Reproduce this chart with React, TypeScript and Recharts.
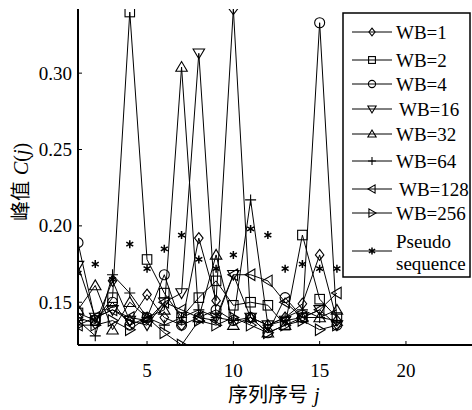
import React from 'react';
import { LineChart, Line, XAxis, YAxis } from 'recharts';

const xValues = [1, 2, 3, 4, 5, 6, 7, 8, 9, 10, 11, 12, 13, 14, 15, 16];
const wb1 = [0.140, 0.136, 0.164, 0.138, 0.155, 0.140, 0.135, 0.192, 0.151, 0.342, 0.140, 0.135, 0.140, 0.149, 0.181, 0.138];
const wb2 = [0.143, 0.138, 0.153, 0.340, 0.178, 0.156, 0.140, 0.153, 0.164, 0.148, 0.150, 0.148, 0.135, 0.194, 0.152, 0.140];
const wb4 = [0.189, 0.138, 0.150, 0.135, 0.140, 0.168, 0.135, 0.140, 0.145, 0.138, 0.140, 0.130, 0.153, 0.140, 0.333, 0.135];
const wb16 = [0.174, 0.140, 0.145, 0.138, 0.135, 0.150, 0.156, 0.313, 0.140, 0.168, 0.140, 0.135, 0.138, 0.140, 0.145, 0.135];
const wb32 = [0.145, 0.161, 0.132, 0.150, 0.140, 0.145, 0.304, 0.140, 0.181, 0.135, 0.140, 0.130, 0.135, 0.140, 0.140, 0.145];
const wb64 = [0.138, 0.128, 0.168, 0.156, 0.140, 0.135, 0.140, 0.145, 0.140, 0.138, 0.217, 0.135, 0.140, 0.145, 0.140, 0.138];
const wb128 = [0.135, 0.140, 0.145, 0.140, 0.138, 0.150, 0.145, 0.140, 0.138, 0.168, 0.168, 0.164, 0.150, 0.140, 0.145, 0.156];
const wb256 = [0.135, 0.135, 0.138, 0.132, 0.140, 0.130, 0.122, 0.138, 0.135, 0.140, 0.135, 0.130, 0.135, 0.138, 0.132, 0.135];
const pseudo = [0.169, 0.175, 0.165, 0.188, 0.172, 0.185, 0.194, 0.178, 0.172, 0.181, 0.198, 0.194, 0.172, 0.175, 0.172, 0.172];

const xTicks = [5, 10, 15, 20];
const yTicks = [0.15, 0.2, 0.25, 0.3];

const seriesKeys = ['wb1', 'wb2', 'wb4', 'wb16', 'wb32', 'wb64', 'wb128', 'wb256', 'pseudo'];
const seriesNames = ['WB=1', 'WB=2', 'WB=4', 'WB=16', 'WB=32', 'WB=64', 'WB=128', 'WB=256', 'Pseudo sequence'];
const seriesMarkers = ['diamond', 'square', 'circle', 'down', 'up', 'plus', 'left', 'right', 'star'];
const seriesValues = [wb1, wb2, wb4, wb16, wb32, wb64, wb128, wb256, pseudo];

const data = xValues.map((x, i) => {
  const row: Record<string, number> = { x };
  seriesKeys.forEach((k, j) => {
    row[k] = seriesValues[j][i];
  });
  return row;
});

const SERIF = '"Liberation Serif", "Times New Roman", serif';
const CJK = '"Noto Sans CJK SC", sans-serif';

function Marker({ kind, cx, cy, s }: { kind: string; cx: number; cy: number; s: number }) {
  const st = { fill: 'none', stroke: '#000', strokeWidth: 1.1 };
  switch (kind) {
    case 'diamond':
      return <polygon points={`${cx},${cy - s * 1.1} ${cx + s * 0.85},${cy} ${cx},${cy + s * 1.1} ${cx - s * 0.85},${cy}`} {...st} />;
    case 'square':
      return <rect x={cx - s * 0.95} y={cy - s * 0.95} width={s * 1.9} height={s * 1.9} {...st} />;
    case 'circle':
      return <circle cx={cx} cy={cy} r={s} {...st} />;
    case 'down':
      return <polygon points={`${cx - s * 1.15},${cy - s * 0.85} ${cx + s * 1.15},${cy - s * 0.85} ${cx},${cy + s * 1.1}`} {...st} />;
    case 'up':
      return <polygon points={`${cx - s * 1.15},${cy + s * 0.85} ${cx + s * 1.15},${cy + s * 0.85} ${cx},${cy - s * 1.1}`} {...st} />;
    case 'left':
      return <polygon points={`${cx + s * 0.85},${cy - s * 1.15} ${cx + s * 0.85},${cy + s * 1.15} ${cx - s * 1.1},${cy}`} {...st} />;
    case 'right':
      return <polygon points={`${cx - s * 0.85},${cy - s * 1.15} ${cx - s * 0.85},${cy + s * 1.15} ${cx + s * 1.1},${cy}`} {...st} />;
    case 'plus':
      return <path d={`M${cx - s * 1.1},${cy}H${cx + s * 1.1}M${cx},${cy - s * 1.1}V${cy + s * 1.1}`} {...st} />;
    case 'star': {
      const r = s * 0.8;
      const a = r * 0.87;
      const b = r * 0.5;
      return (
        <path
          d={`M${cx},${cy - r}V${cy + r}M${cx - a},${cy - b}L${cx + a},${cy + b}M${cx - a},${cy + b}L${cx + a},${cy - b}`}
          fill="none"
          stroke="#000"
          strokeWidth={1.5}
        />
      );
    }
    default:
      return null;
  }
}

const makeDot = (kind: string) => (props: any) => {
  const { cx, cy, index } = props;
  if (cx == null || cy == null) return <g key={`d-${kind}-${index}`} />;
  return (
    <g key={`d-${kind}-${index}`}>
      <Marker kind={kind} cx={cx} cy={cy} s={5} />
    </g>
  );
};

const BottomTick = (props: any) => {
  const { x, y, payload } = props;
  return (
    <g>
      <line x1={x} x2={x} y1={y} y2={y - 4} stroke="#000" strokeWidth={1} />
      <text x={x} y={y + 32} textAnchor="middle" style={{ fontFamily: SERIF }} fontSize={19} fill="#000">
        {payload.value}
      </text>
    </g>
  );
};

const TopTick = (props: any) => {
  const { x, y } = props;
  return <line x1={x} x2={x} y1={y} y2={y + 4} stroke="#000" strokeWidth={1} />;
};

const LeftTick = (props: any) => {
  const { x, y, payload } = props;
  return (
    <g>
      <line x1={x} x2={x + 4} y1={y} y2={y} stroke="#000" strokeWidth={1} />
      <text x={x - 6} y={y + 6.5} textAnchor="end" style={{ fontFamily: SERIF }} fontSize={19} fill="#000">
        {Number(payload.value).toFixed(2)}
      </text>
    </g>
  );
};

const RightTick = (props: any) => {
  const { x, y } = props;
  return <line x1={x} x2={x - 4} y1={y} y2={y} stroke="#000" strokeWidth={1} />;
};

const legendRows = [32, 60, 84, 109, 134, 161, 189, 213];
const legendTextX = [396, 396, 396, 399, 396, 396, 399, 396];

export default function App() {
  return (
    <div style={{ position: 'absolute', left: 0, top: 0, width: 472, height: 410, overflow: 'hidden', background: '#fff' }}>
      <LineChart
        width={480}
        height={410}
        data={data}
        margin={{ top: 9, right: 5, left: 0, bottom: 25 }}
      >
        <XAxis
          xAxisId={0}
          dataKey="x"
          type="number"
          domain={[1, 24]}
          ticks={xTicks}
          interval={0}
          allowDataOverflow
          height={40}
          tickSize={0}
          tickMargin={0}
          axisLine={{ stroke: '#000', strokeWidth: 2 }}
          tickLine={false}
          tick={<BottomTick />}
        />
        <XAxis
          xAxisId="top"
          orientation="top"
          dataKey="x"
          type="number"
          domain={[1, 24]}
          ticks={xTicks}
          interval={0}
          allowDataOverflow
          height={0}
          tickSize={0}
          tickMargin={0}
          axisLine={{ stroke: '#000', strokeWidth: 2 }}
          tickLine={false}
          tick={<TopTick />}
        />
        <YAxis
          yAxisId={0}
          type="number"
          domain={[0.122, 0.342]}
          ticks={yTicks}
          interval={0}
          allowDataOverflow
          width={78}
          tickSize={0}
          tickMargin={0}
          axisLine={{ stroke: '#000', strokeWidth: 2 }}
          tickLine={false}
          tick={<LeftTick />}
        />
        <YAxis
          yAxisId="right"
          orientation="right"
          type="number"
          domain={[0.122, 0.342]}
          ticks={yTicks}
          interval={0}
          allowDataOverflow
          width={0}
          tickSize={0}
          tickMargin={0}
          axisLine={{ stroke: '#000', strokeWidth: 2 }}
          tickLine={false}
          tick={<RightTick />}
        />
        {seriesKeys.map((k, i) => (
          <Line
            key={k}
            xAxisId={0}
            yAxisId={0}
            dataKey={k}
            type="linear"
            stroke={k === 'pseudo' ? 'none' : '#000'}
            strokeWidth={1}
            dot={makeDot(seriesMarkers[i])}
            activeDot={false}
            isAnimationActive={false}
          />
        ))}
      </LineChart>
      <svg
        width={472}
        height={410}
        style={{ position: 'absolute', left: 0, top: 0, pointerEvents: 'none' }}
      >
        <rect x={343} y={13} width={127} height={264} fill="#fff" stroke="#000" strokeWidth={1.5} />
        {seriesNames.slice(0, 8).map((name, i) => (
          <g key={name}>
            <line x1={352} x2={392} y1={legendRows[i]} y2={legendRows[i]} stroke="#000" strokeWidth={1} />
            <Marker kind={seriesMarkers[i]} cx={372} cy={legendRows[i]} s={3.6} />
            <text x={legendTextX[i]} y={legendRows[i] + 7} style={{ fontFamily: SERIF }} fontSize={19} fill="#000">
              {name}
            </text>
          </g>
        ))}
        <g>
          <line x1={352} x2={392} y1={251} y2={251} stroke="#000" strokeWidth={1} />
          <Marker kind="star" cx={372} cy={251} s={4.5} />
          <text x={396} y={248} style={{ fontFamily: SERIF }} fontSize={19} fill="#000">Pseudo</text>
          <text x={396} y={270} style={{ fontFamily: SERIF }} fontSize={19} fill="#000">sequence</text>
        </g>
        <text x={228} y={402} style={{ fontFamily: CJK }} fontSize={20} fill="#000">
          序列序号
          <tspan style={{ fontFamily: SERIF, fontStyle: 'italic' }} fontSize={20} dx={6}>j</tspan>
        </text>
        <text transform="translate(28,221) rotate(-90)" style={{ fontFamily: CJK }} fontSize={20} fill="#000">
          峰值
          <tspan style={{ fontFamily: SERIF, fontStyle: 'italic' }} dx={6}>C</tspan>
          <tspan style={{ fontFamily: SERIF }}>(</tspan>
          <tspan style={{ fontFamily: SERIF, fontStyle: 'italic' }}>j</tspan>
          <tspan style={{ fontFamily: SERIF }}>)</tspan>
        </text>
      </svg>
    </div>
  );
}
